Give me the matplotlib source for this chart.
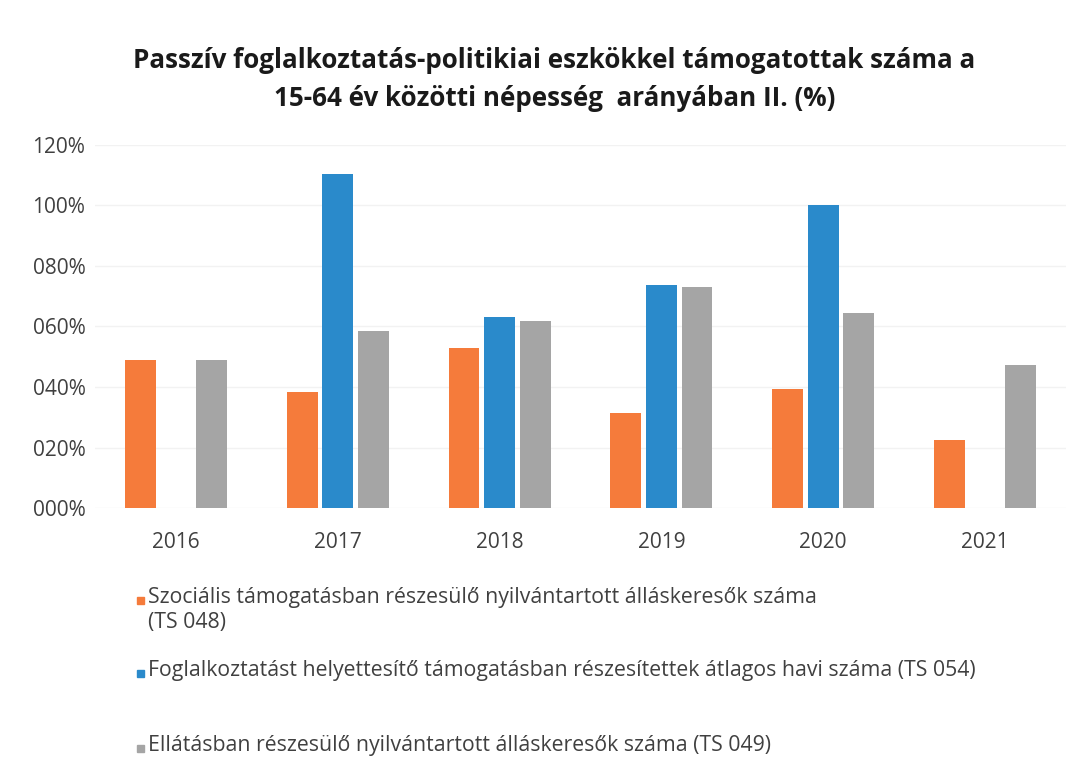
import matplotlib
matplotlib.use('Agg')
import matplotlib.pyplot as plt
from matplotlib.patches import Rectangle
import numpy as np

plt.rcParams['font.family'] = ['Open Sans', 'DejaVu Sans']

years = ['2016', '2017', '2018', '2019', '2020', '2021']
szocialis = [48.9, 38.4, 52.8, 31.3, 39.4, 22.5]
helyettesito = [np.nan, 110.3, 63.2, 73.6, 100.2, np.nan]
ellatas = [48.9, 58.5, 61.9, 73.0, 64.4, 47.3]
series_labels = [
    'Szociális támogatásban részesülő nyilvántartott álláskeresők száma\n(TS 048)',
    'Foglalkoztatást helyettesítő támogatásban részesítettek átlagos havi száma (TS 054)',
    'Ellátásban részesülő nyilvántartott álláskeresők száma (TS 049)',
]
yticks = [0, 20, 40, 60, 80, 100, 120]
ytick_labels = ['000%', '020%', '040%', '060%', '080%', '100%', '120%']

ORANGE = '#F57B3B'
BLUE = '#2A8ACB'
GREY = '#A5A5A5'
TEXT = '#404040'
colors = [ORANGE, BLUE, GREY]

fig = plt.figure(figsize=(10.81, 7.7), dpi=100)
fig.patch.set_facecolor('white')
ax = fig.add_axes([0.088, 0.340, 0.898, 0.472])

x = np.arange(len(years))
w = 0.19
step = 0.22
for i, (vals, c) in enumerate(zip([szocialis, helyettesito, ellatas], colors)):
    ax.bar(x + (i - 1) * step, vals, width=w, color=c, zorder=3)

ax.set_xlim(-0.5, len(years) - 0.5)
ax.set_ylim(0, 120)
ax.set_yticks(yticks)
ax.set_yticklabels(ytick_labels)
ax.set_xticks(x)
ax.set_xticklabels(years)
ax.tick_params(axis='both', length=0, labelsize=15, colors=TEXT)
ax.tick_params(axis='x', pad=17)
ax.tick_params(axis='y', pad=7)
ax.grid(axis='y', color='#f2f2f2', linewidth=1, zorder=0)
for s in ax.spines.values():
    s.set_visible(False)

fig.text(0.513, 0.922, 'Passzív foglalkoztatás-politikiai eszkökkel támogatottak száma a',
         fontsize=18.7, fontweight='bold', color='#1a1a1a', ha='center', va='center')
fig.text(0.513, 0.872, '15-64 év közötti népesség  arányában II. (%)',
         fontsize=18.7, fontweight='bold', color='#1a1a1a', ha='center', va='center')

# legend, placed by hand
leg_y = [600, 673, 748]
for lab, c, yy in zip(series_labels, colors, leg_y):
    yf = 1 - yy / 770
    fig.patches.append(Rectangle((137 / 1081, yf - 3.5 / 770), 7 / 1081, 7 / 770,
                                 transform=fig.transFigure, color=c))
    fig.text(148 / 1081, yf + 13 / 770, lab, fontsize=15.3, color=TEXT,
             ha='left', va='top', linespacing=1.22)

plt.savefig('out.png', dpi=100, facecolor='white')
plt.close()
